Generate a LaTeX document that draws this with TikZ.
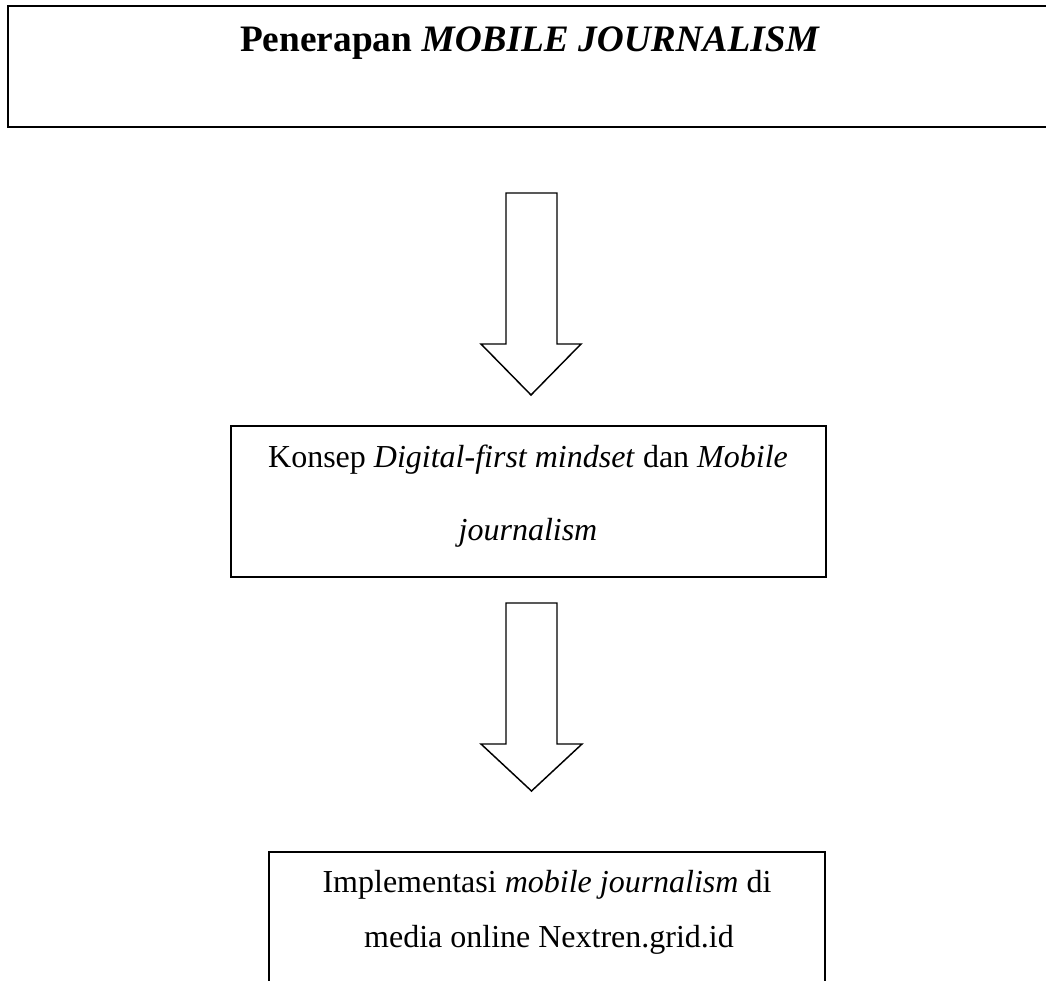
\documentclass[tikz,border=0pt]{standalone}
\usepackage{fontspec}
\setmainfont{Liberation Serif}
\begin{document}
\begin{tikzpicture}[x=0.75pt,y=-0.75pt,
  framebox/.style={draw=black, line width=1.5pt, rectangle, inner sep=0pt},
  blockarrow/.style={draw=black, line width=1.1pt, fill=white, line join=miter},
  bodytext/.style={anchor=base, inner sep=0pt, font=\fontsize{24}{28}\selectfont},
  titletext/.style={anchor=base, inner sep=0pt, font=\fontsize{28}{32}\selectfont\bfseries}]
\useasboundingbox (0,0) rectangle (1046,981);
\fill[white] (0,0) rectangle (1046,981);
% top box
\node[framebox, line width=1.8pt, minimum width=792pt, minimum height=90.75pt] (topbox) at (536,66.5) {};
\node[titletext] (title) at (530,52) {Penerapan \textit{MOBILE JOURNALISM}};
% arrow 1
\draw[blockarrow] (506,193) -- (557,193) -- (557,344) -- (581,344) -- (531,395) -- (481,344) -- (506,344) -- cycle;
% box 2
\node[framebox, minimum width=445.9pt, minimum height=113.6pt] (konsep) at (528.25,501.75) {};
\node[bodytext] (konsepa) at (528,467) {Konsep \textit{Digital-first mindset} dan \textit{Mobile}};
\node[bodytext] (konsepb) at (528,540) {\textit{journalism}};
% arrow 2
\draw[blockarrow] (506,603) -- (557,603) -- (557,744) -- (582,744) -- (531.5,791) -- (481,744) -- (506,744) -- cycle;
% box 3
\node[framebox, minimum width=417pt, minimum height=111pt] (impl) at (547,926) {};
\node[bodytext] (impla) at (547,892) {Implementasi \textit{mobile journalism} di};
\node[bodytext] (implb) at (549,947) {media online Nextren.grid.id};
\end{tikzpicture}
\end{document}
